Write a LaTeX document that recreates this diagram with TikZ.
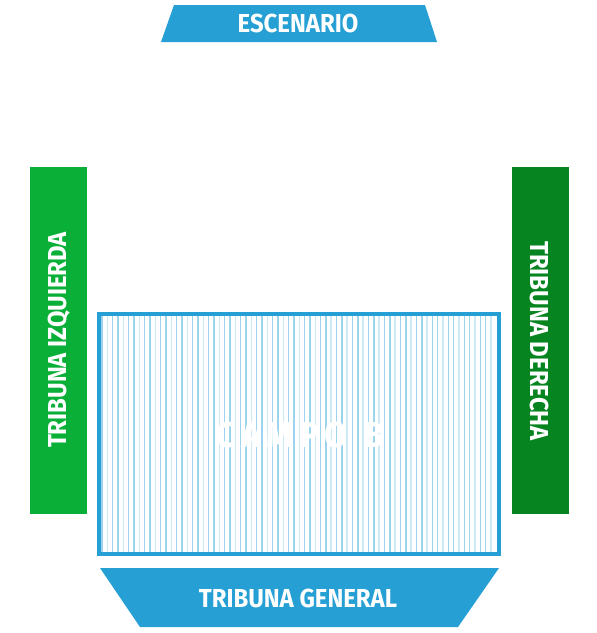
\documentclass[tikz,border=0pt]{standalone}
\usepackage{fontspec}
\newfontfamily\condfont{Fira Sans}[FakeStretch=0.92]
\definecolor{stageblue}{HTML}{26A0D4}
\definecolor{stripeA}{HTML}{9CD4EE}
\definecolor{stripeB}{HTML}{CBE9F7}
\definecolor{greenL}{HTML}{0AAF37}
\definecolor{greenR}{HTML}{06841F}
\tikzset{
  lbl/.style={text=white, font=\condfont\bfseries\fontsize{26}{26}\selectfont, inner sep=0pt},
  bigl/.style={text=white, font=\condfont\bfseries\fontsize{36}{36}\selectfont, inner sep=0pt},
}
\begin{document}
\begin{tikzpicture}[x=1pt,y=-1pt]
\useasboundingbox (0,0) rectangle (597,633);
% stage
\fill[stageblue] (174,5) -- (425,5) -- (437,42) -- (161,42) -- cycle;
\node[lbl] (stage) at (298,23.5) {ESCENARIO};
% left stand
\fill[greenL] (30,166.5) rectangle (86.5,513.5);
\node[lbl, rotate=90] (left) at (59,340) {TRIBUNA IZQUIERDA};
% right stand
\fill[greenR] (512,166.5) rectangle (568.5,513.5);
\node[lbl, rotate=-90] (right) at (540,341) {TRIBUNA DERECHA};
% field stripes
\foreach \i in {0,...,73} {
  \pgfmathsetmacro{\xx}{102+5.33*\i}
  \pgfmathtruncatemacro{\odd}{mod(\i,3)}
  \ifnum\odd=1
    \draw[stripeB, line width=1.4pt] (\xx,316) -- (\xx,552);
  \else
    \draw[stripeA, line width=1.4pt] (\xx,316) -- (\xx,552);
  \fi
}
\draw[stageblue, line width=4pt] (99.3,314.3) rectangle (499,554);
\node[bigl] (field) at (300,435) {C\,A\,M\,P\,O\ \ B};
% general stand
\fill[stageblue] (100,568) -- (499,568) -- (458,627) -- (140,627) -- cycle;
\node[lbl] (general) at (298,598) {TRIBUNA GENERAL};
\end{tikzpicture}
\end{document}
